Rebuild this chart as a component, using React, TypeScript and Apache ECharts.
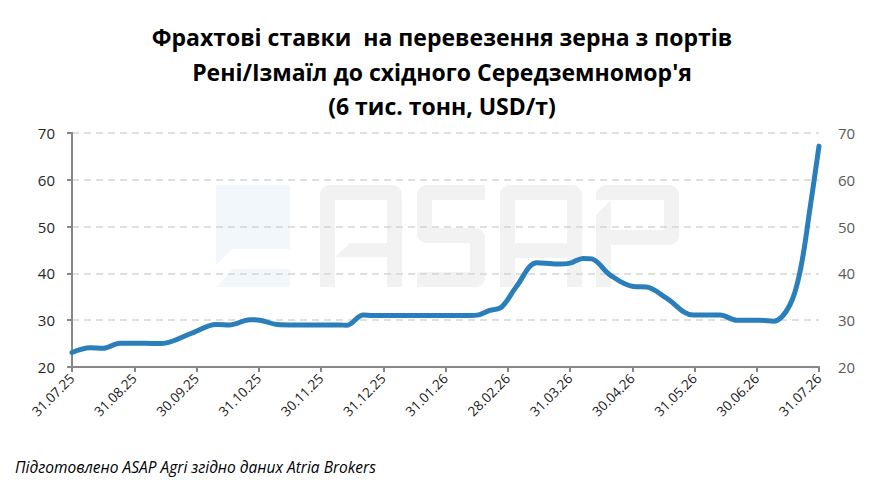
import { useEffect, useRef } from 'react';
import * as echarts from 'echarts';

// month ticks (month-end dates), x positions are months since 31.07.25
const monthLabels = [
  '31.07.25', '31.08.25', '30.09.25', '31.10.25', '30.11.25', '31.12.25', '31.01.26',
  '28.02.26', '31.03.26', '30.04.26', '31.05.26', '30.06.26', '31.07.26',
];

const monthPos = [
  0, 0.29, 0.5, 0.77, 1.0, 1.36, 1.5, 1.9, 2.32, 2.54, 2.86, 3.02, 3.29, 3.6, 4.0,
  4.31, 4.41, 4.68, 4.84, 5.5, 6.39, 6.55, 6.71, 6.9, 7.14, 7.47, 7.79, 8.0, 8.21,
  8.35, 8.64, 9.02, 9.23, 9.55, 9.98, 10.41, 10.68, 11.05, 11.27, 11.53, 11.7, 11.86, 12,
];

const rates = [
  23.1, 24.1, 24, 25.1, 25.1, 25, 25.1, 27.1, 29.1, 29, 30.1, 30, 29.1, 29, 29,
  29, 28.9, 31.1, 31, 31, 31, 31.2, 32.1, 32.8, 37.2, 42.3, 42, 42.2, 43.2,
  43.1, 39.7, 37.2, 37.1, 34.7, 31.1, 31.1, 30, 30, 29.8, 33.2, 40.7, 54.3, 67.2,
];

const titleLines = [
  'Фрахтові ставки  на перевезення зерна з портів',
  "Рені/Ізмаїл до східного Середземномор'я",
  '(6 тис. тонн, USD/т)',
];
const sourceNote = 'Підготовлено ASAP Agri згідно даних Atria Brokers';

const FONT = '"Open Sans", "DejaVu Sans", sans-serif';
const WM = '#f2f2f2';
const WM_LOGO = '#f2f7fb';

function letterA(x0: number, notch: boolean) {
  const s = { fill: WM };
  return [
    { type: 'rect', shape: { x: x0, y: 185, width: 82, height: 15, r: [10, 10, 0, 0] }, style: s },
    { type: 'rect', shape: { x: x0, y: 185, width: 15, height: 102, r: [10, 0, 0, 0] }, style: s },
    { type: 'rect', shape: { x: x0 + 67, y: 185, width: 15, height: 102, r: [0, 10, 0, 0] }, style: s },
    notch
      ? { type: 'polygon', shape: { points: [[x0 + 15, 257], [x0 + 30, 243], [x0 + 67, 243], [x0 + 67, 257]] }, style: s }
      : { type: 'rect', shape: { x: x0 + 15, y: 243, width: 52, height: 15 }, style: s },
  ];
}

function watermark() {
  const s = { fill: WM };
  const els: any[] = [
    { type: 'polygon', shape: { points: [[216, 185], [290, 185], [290, 249], [233, 249], [216, 265]] }, style: { fill: WM_LOGO } },
    { type: 'polygon', shape: { points: [[216, 287], [233, 269], [290, 269], [290, 287]] }, style: { fill: WM_LOGO } },
    ...letterA(320, true),
    // S
    { type: 'rect', shape: { x: 417, y: 185, width: 68, height: 15, r: [10, 0, 0, 0] }, style: s },
    { type: 'rect', shape: { x: 417, y: 185, width: 15, height: 58, r: [10, 0, 0, 10] }, style: s },
    { type: 'rect', shape: { x: 417, y: 228, width: 68, height: 15, r: [0, 10, 0, 10] }, style: s },
    { type: 'rect', shape: { x: 470, y: 228, width: 15, height: 59, r: [0, 10, 10, 0] }, style: s },
    { type: 'rect', shape: { x: 417, y: 272, width: 68, height: 15, r: [0, 0, 10, 0] }, style: s },
    ...letterA(500, false),
    // P
    { type: 'rect', shape: { x: 596, y: 185, width: 83, height: 15, r: [10, 10, 0, 0] }, style: s },
    { type: 'polygon', shape: { points: [[596, 215], [611, 200], [611, 287], [596, 287]] }, style: s },
    { type: 'rect', shape: { x: 664, y: 185, width: 15, height: 60, r: [0, 10, 10, 0] }, style: s },
    { type: 'rect', shape: { x: 596, y: 230, width: 83, height: 15, r: [0, 0, 10, 0] }, style: s },
  ];
  return els.map((e) => ({ ...e, z: -10, silent: true }));
}

function titleTexts() {
  return titleLines.map((line, i) => ({
    type: 'text',
    x: 442,
    y: 37 + i * 34.5,
    style: {
      text: line,
      fontFamily: FONT,
      fontSize: 23,
      fontWeight: 'bold',
      fill: '#000000',
      textAlign: 'center',
      textVerticalAlign: 'middle',
    },
  }));
}

export default function App() {
  const chartRef = useRef<HTMLDivElement>(null);

  useEffect(() => {
    document.body.style.margin = '0';
    if (!chartRef.current) return;
    const chart = echarts.init(chartRef.current, undefined, { renderer: 'svg' });

    const yAxisBase = {
      type: 'value',
      min: 20,
      max: 70,
      interval: 10,
    };

    chart.setOption({
      animation: false,
      backgroundColor: '#ffffff',
      textStyle: { fontFamily: FONT },
      grid: { left: 72, right: 64, top: 133, bottom: 125 },
      xAxis: {
        type: 'value',
        min: 0,
        max: 12,
        interval: 1,
        axisLine: { show: true, onZero: false, lineStyle: { color: '#878787', width: 2 } },
        axisTick: { show: true, length: 5, lineStyle: { color: '#878787', width: 2 } },
        splitLine: { show: false },
        axisLabel: {
          rotate: 45,
          margin: 9,
          fontSize: 13.5,
          color: '#1a1a1a',
          fontFamily: FONT,
          formatter: (v: number) => monthLabels[Math.round(v)] ?? '',
        },
      },
      yAxis: [
        {
          ...yAxisBase,
          position: 'left',
          axisLine: { show: true, lineStyle: { color: '#878787', width: 2 } },
          axisTick: { show: true, length: 5, lineStyle: { color: '#878787', width: 2 } },
          splitLine: { show: true, lineStyle: { color: '#d5d5d5', width: 1.5, type: [7, 5] } },
          axisLabel: { fontSize: 15, color: '#262626', margin: 17, fontFamily: FONT },
        },
        {
          ...yAxisBase,
          position: 'right',
          axisLine: { show: false },
          axisTick: { show: false },
          splitLine: { show: false },
          axisLabel: { fontSize: 15, color: '#595959', margin: 19, fontFamily: FONT },
        },
      ],
      graphic: [
        ...watermark(),
        ...titleTexts(),
        {
          type: 'text',
          x: 15,
          y: 467,
          style: {
            text: sourceNote,
            fontFamily: FONT,
            fontSize: 15.5,
            fontStyle: 'italic',
            fill: '#000000',
            textVerticalAlign: 'middle',
          },
        },
      ],
      series: [
        {
          type: 'line',
          yAxisIndex: 0,
          data: monthPos.map((m, i) => [m, rates[i]]),
          smooth: 0.35,
          showSymbol: false,
          lineStyle: { color: '#2a7fba', width: 5, cap: 'round', join: 'round' },
          z: 5,
        },
      ],
    });

    return () => chart.dispose();
  }, []);

  return <div ref={chartRef} style={{ width: 883, height: 492 }} />;
}
